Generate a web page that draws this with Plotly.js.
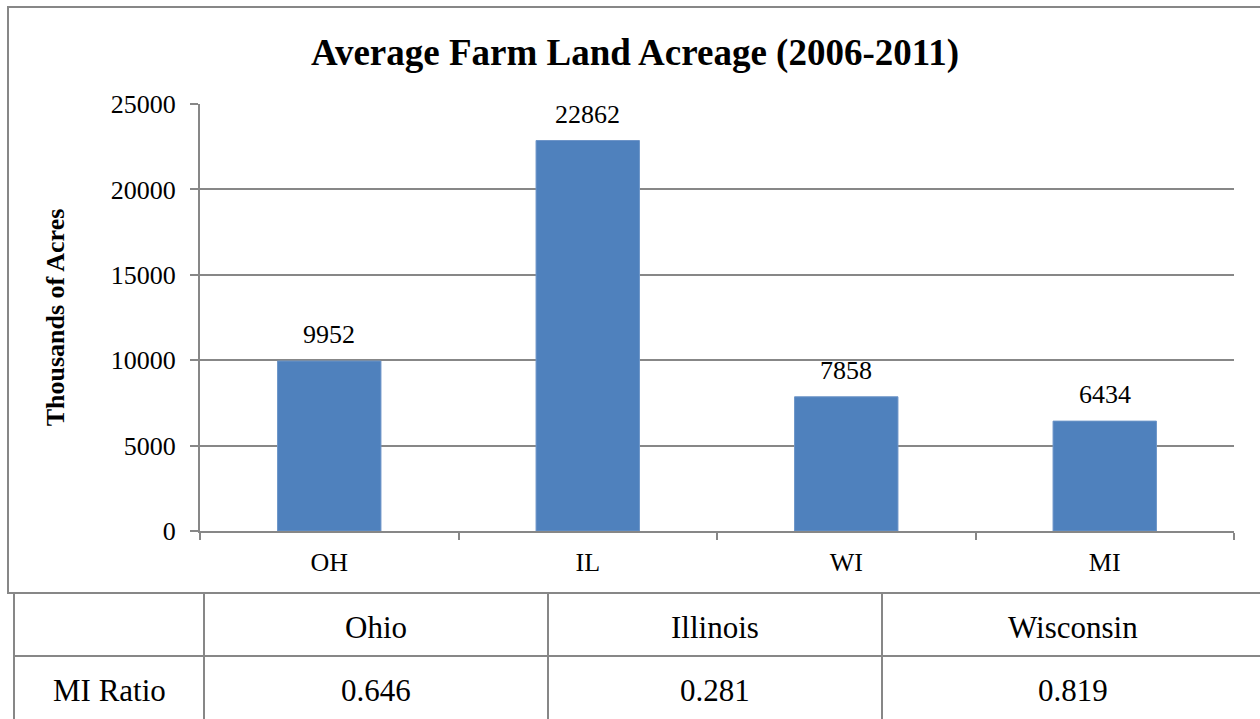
<!DOCTYPE html>
<html>
<head>
<meta charset="utf-8">
<script src="https://cdn.plot.ly/plotly-3.0.1.min.js"></script>
<style>html,body{margin:0;padding:0;background:#fff;}#chart{width:1260px;height:719px;}</style>
</head>
<body>
<div id="chart"></div>
<script>
// ---- data ----
const categories = ["OH", "IL", "WI", "MI"];
const acreage = [9952, 22862, 7858, 6434];
const tableHeader = ["", "Ohio", "Illinois", "Wisconsin"];
const tableRowLabel = "MI Ratio";
const miRatio = ["0.646", "0.281", "0.819"];
const yTicks = [0, 5000, 10000, 15000, 20000, 25000];

// ---- layout helpers (pixel -> paper) ----
const W = 1260, H = 719;
const L = 200, R = 1234, T = 104, B = 531;
const px = p => (p - L) / (R - L);
const py = p => (B - p) / (B - T);
const FONT = 'Liberation Serif, Times New Roman, serif';
const GRAY = '#878787';

const shapes = [];
// chart border
shapes.push({type:'rect', xref:'paper', yref:'paper', x0:px(8), x1:px(1275), y0:py(593), y1:py(7),
  line:{color:GRAY, width:2}, fillcolor:'rgba(0,0,0,0)', layer:'below'});
// table lines
const colEdges = [14, 204, 548, 882, 1264];
const rowEdges = [593, 656, 730];
colEdges.forEach(cx => shapes.push({type:'line', xref:'paper', yref:'paper', x0:px(cx), x1:px(cx), y0:py(593), y1:py(730), line:{color:GRAY, width:2}}));
rowEdges.forEach(ry => shapes.push({type:'line', xref:'paper', yref:'paper', x0:px(14), x1:px(1275), y0:py(ry), y1:py(ry), line:{color:GRAY, width:2}}));

const annotations = [];
// data labels above bars
categories.forEach((c, i) => annotations.push({x:c, y:acreage[i], xref:'x', yref:'y', text:String(acreage[i]),
  showarrow:false, yanchor:'bottom', yshift:10, font:{family:FONT, size:26, color:'#000'}}));
// table text
const rowCenters = [627, 690];
const secondRow = [tableRowLabel].concat(miRatio);
[tableHeader, secondRow].forEach((row, r) => row.forEach((txt, c) => {
  if (!txt) return;
  annotations.push({xref:'paper', yref:'paper', x:px((colEdges[c] + colEdges[c+1]) / 2), y:py(rowCenters[r]),
    text:txt, showarrow:false, xanchor:'center', yanchor:'middle', font:{family:FONT, size:31, color:'#000'}});
}));

const trace = {
  type:'bar', x:categories, y:acreage,
  marker:{color:'#4F81BD', line:{color:'#6d95c8', width:1}},
  hoverinfo:'x+y'
};

const layout = {
  width:W, height:H,
  margin:{l:L, r:W - R, t:T, b:H - B, pad:0},
  paper_bgcolor:'#fff', plot_bgcolor:'#fff',
  font:{family:FONT, color:'#000'},
  title:{text:'<b>Average Farm Land Acreage (2006-2011)</b>', font:{family:FONT, size:37, color:'#000'},
    xref:'container', yref:'container', x:635/W, y:1 - 52/H, xanchor:'center', yanchor:'middle'},
  bargap:0.6,
  showlegend:false,
  xaxis:{type:'category', showgrid:false, showline:true, linecolor:GRAY, linewidth:2,
    ticks:'outside', tickson:'boundaries', ticklen:7, tickwidth:2, tickcolor:GRAY,
    tickfont:{family:FONT, size:26, color:'#000'}, ticklabelstandoff:7, zeroline:false, fixedrange:true},
  yaxis:{range:[0, 25000], tickvals:yTicks, ticktext:yTicks.map(String),
    showgrid:true, gridcolor:GRAY, gridwidth:2, showline:true, linecolor:GRAY, linewidth:2,
    ticks:'outside', ticklen:8, tickwidth:2, tickcolor:GRAY, zeroline:false,
    tickfont:{family:FONT, size:26, color:'#000'}, ticklabelstandoff:9,
    title:{text:'<b>Thousands of Acres</b>', font:{family:FONT, size:26, color:'#000'}, standoff:39},
    fixedrange:true},
  shapes:shapes,
  annotations:annotations
};

Plotly.newPlot('chart', [trace], layout, {displayModeBar:false, staticPlot:true});
</script>
</body>
</html>
